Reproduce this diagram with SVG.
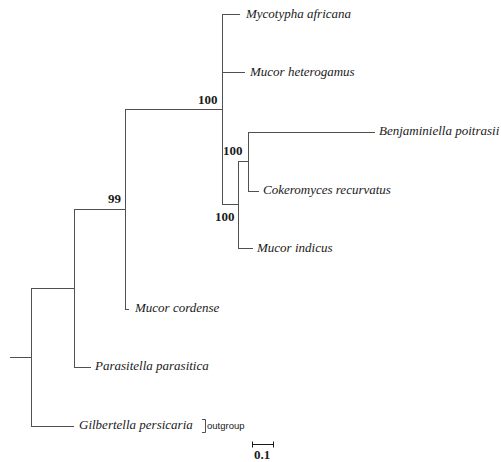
<svg xmlns="http://www.w3.org/2000/svg" width="501" height="462" viewBox="0 0 501 462">
<style>
.br{fill:none;stroke:#505050;stroke-width:1}
.tx{font-family:"Liberation Serif","Times New Roman",serif;font-style:italic;font-size:13px;fill:#1a1a1a}
.bs{font-family:"Liberation Serif","Times New Roman",serif;font-weight:bold;font-size:13px;fill:#1a1a1a}
.og{font-family:"Liberation Sans",Arial,sans-serif;font-size:9.5px;fill:#1a1a1a}
</style>
<rect width="501" height="462" fill="#ffffff"/>
<g id="connectors">
<path class="br" d="M10,357.5 H31.5"/>
<path class="br" d="M31.5,288 V427"/>
<path class="br" d="M31,426.5 H74"/>
<path class="br" d="M31,288.5 H74.5"/>
<path class="br" d="M74.5,209 V368"/>
<path class="br" d="M74,367.5 H91"/>
<path class="br" d="M74,209.5 H125.5"/>
<path class="br" d="M125.5,109 V310"/>
<path class="br" d="M125,309.5 H129"/>
<path class="br" d="M125,109.5 H222.5"/>
<path class="br" d="M222.5,14 V205"/>
<path class="br" d="M222,14.5 H240"/>
<path class="br" d="M222,72.5 H245"/>
<path class="br" d="M222,204.5 H238.5"/>
<path class="br" d="M238.5,161 V249"/>
<path class="br" d="M238,248.5 H253"/>
<path class="br" d="M238,161.5 H248.5"/>
<path class="br" d="M248.5,132 V192"/>
<path class="br" d="M248,132.5 H375"/>
<path class="br" d="M248,191.5 H259"/>
</g>
<g id="support">
<text class="bs" x="198" y="104">100</text>
<text class="bs" x="223" y="155">100</text>
<text class="bs" x="215" y="221">100</text>
<text class="bs" x="108" y="203">99</text>
</g>
<g id="taxon-mycotypha"><text class="tx" x="246" y="18">Mycotypha africana</text></g>
<g id="taxon-heterogamus"><text class="tx" x="250" y="76">Mucor heterogamus</text></g>
<g id="taxon-benjaminiella"><text class="tx" x="379" y="135">Benjaminiella poitrasii</text></g>
<g id="taxon-cokeromyces"><text class="tx" x="263" y="194">Cokeromyces recurvatus</text></g>
<g id="taxon-indicus"><text class="tx" x="257" y="252">Mucor indicus</text></g>
<g id="taxon-cordense"><text class="tx" x="135" y="312">Mucor cordense</text></g>
<g id="taxon-parasitella"><text class="tx" x="95" y="370">Parasitella parasitica</text></g>
<g id="taxon-gilbertella"><text class="tx" x="79" y="429">Gilbertella persicaria</text></g>
<g id="outgroup">
<path class="br" d="M202,419.5 H205.5 V432.5 H202" stroke="#1a1a1a"/>
<text class="og" x="207" y="429">outgroup</text>
</g>
<g id="scalebar">
<path class="br" d="M252.5,444.5 H273.5 M252.5,441.5 V447.5 M273.5,441.5 V447.5" style="stroke:#1a1a1a"/>
<text class="bs" x="254" y="459">0.1</text>
</g>
</svg>
